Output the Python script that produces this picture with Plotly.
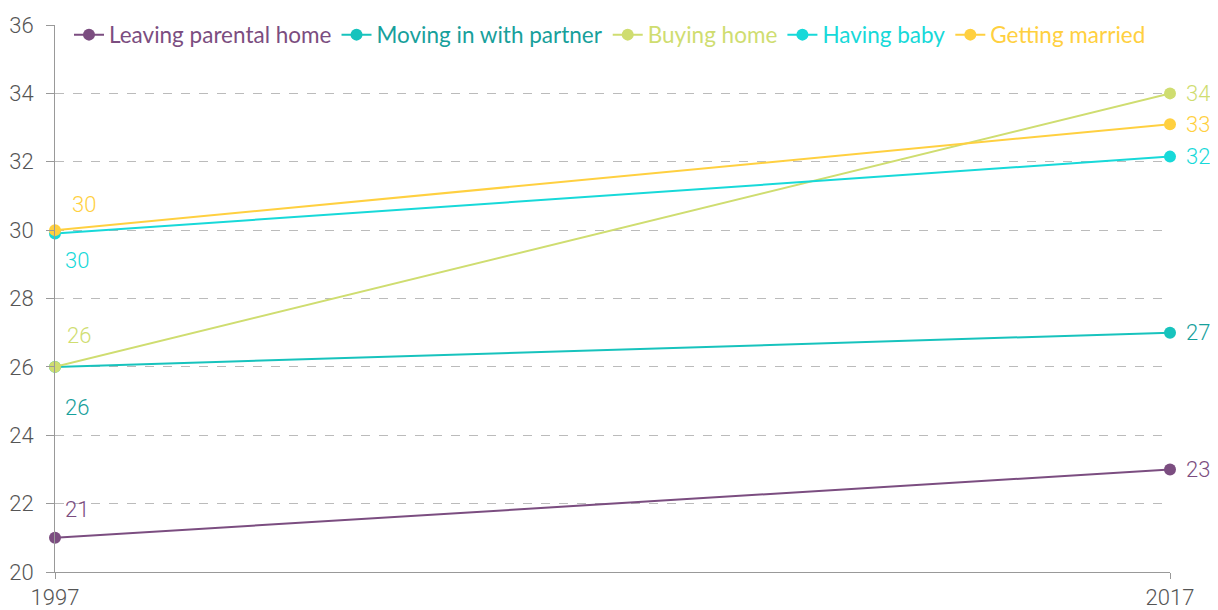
import plotly.graph_objects as go

years = [1997, 2017]
series_names = ["Leaving parental home", "Moving in with partner", "Buying home", "Having baby", "Getting married"]
leaving = [21, 23]
moving = [26, 27]
buying = [26, 34]
baby = [29.9, 32.15]
married = [30, 33.1]
label_left = ["21", "26", "26", "30", "30"]
label_right = ["23", "27", "34", "32", "33"]

values = [leaving, moving, buying, baby, married]
line_colors = ["#7b4d80", "#17c3bd", "#cfdd70", "#17d9d9", "#ffd040"]
text_colors = ["#7b4d80", "#17a09b", "#cfdd70", "#17d9d9", "#ffd040"]
left_yshift = [28, -41, 31, -27, 26]
left_xshift = [22, 22, 24, 22, 29]

fig = go.Figure()
for name, v, c, tc in zip(series_names, values, line_colors, text_colors):
    fig.add_trace(go.Scatter(x=years, y=v, name=f'<span style="color:{tc}">{name}</span>',
                             mode="lines+markers",
                             line=dict(color=c, width=2), marker=dict(size=12, color=c),
                             cliponaxis=False))

tfont = dict(size=22, family="Roboto", weight=300)
for v, c, ys, xs, ll, lr in zip(values, text_colors, left_yshift, left_xshift, label_left, label_right):
    fig.add_annotation(x=years[0], y=v[0], text=ll, showarrow=False, xanchor="center",
                       xshift=xs, yshift=ys, font=dict(tfont, color=c))
    fig.add_annotation(x=years[1], y=v[1], text=lr, showarrow=False, xanchor="left",
                       xshift=14, yshift=0, font=dict(tfont, color=c))

W, H = 1210, 602
fig.update_layout(
    width=W, height=H,
    margin=dict(l=47, r=48, t=17, b=38, autoexpand=False),
    paper_bgcolor="white", plot_bgcolor="white",
    showlegend=True,
    legend=dict(orientation="h", x=61 / W, xref="container", y=1 - 27 / H, yref="container",
                xanchor="left", yanchor="middle",
                font=dict(size=22.5, family="Lato"), bgcolor="rgba(0,0,0,0)",
                itemwidth=30, tracegroupgap=0),
    xaxis=dict(range=[1997, 2017], tickvals=years, ticktext=["1997", "2017"],
               showgrid=False, showline=True, linecolor="#999", linewidth=1,
               ticks="outside", ticklen=6, tickcolor="#999", zeroline=False, automargin=False,
               tickfont=dict(tfont, color="#555")),
    yaxis=dict(range=[20, 36], dtick=2, showgrid=True, gridcolor="#bbb", griddash="dash",
               gridwidth=1, showline=True, linecolor="#999", linewidth=1,
               ticks="outside", ticklen=8, tickcolor="#999", zeroline=False, automargin=False,
               ticklabelstandoff=8,
               tickfont=dict(tfont, color="#555")),
)

fig.write_html("out.html")
